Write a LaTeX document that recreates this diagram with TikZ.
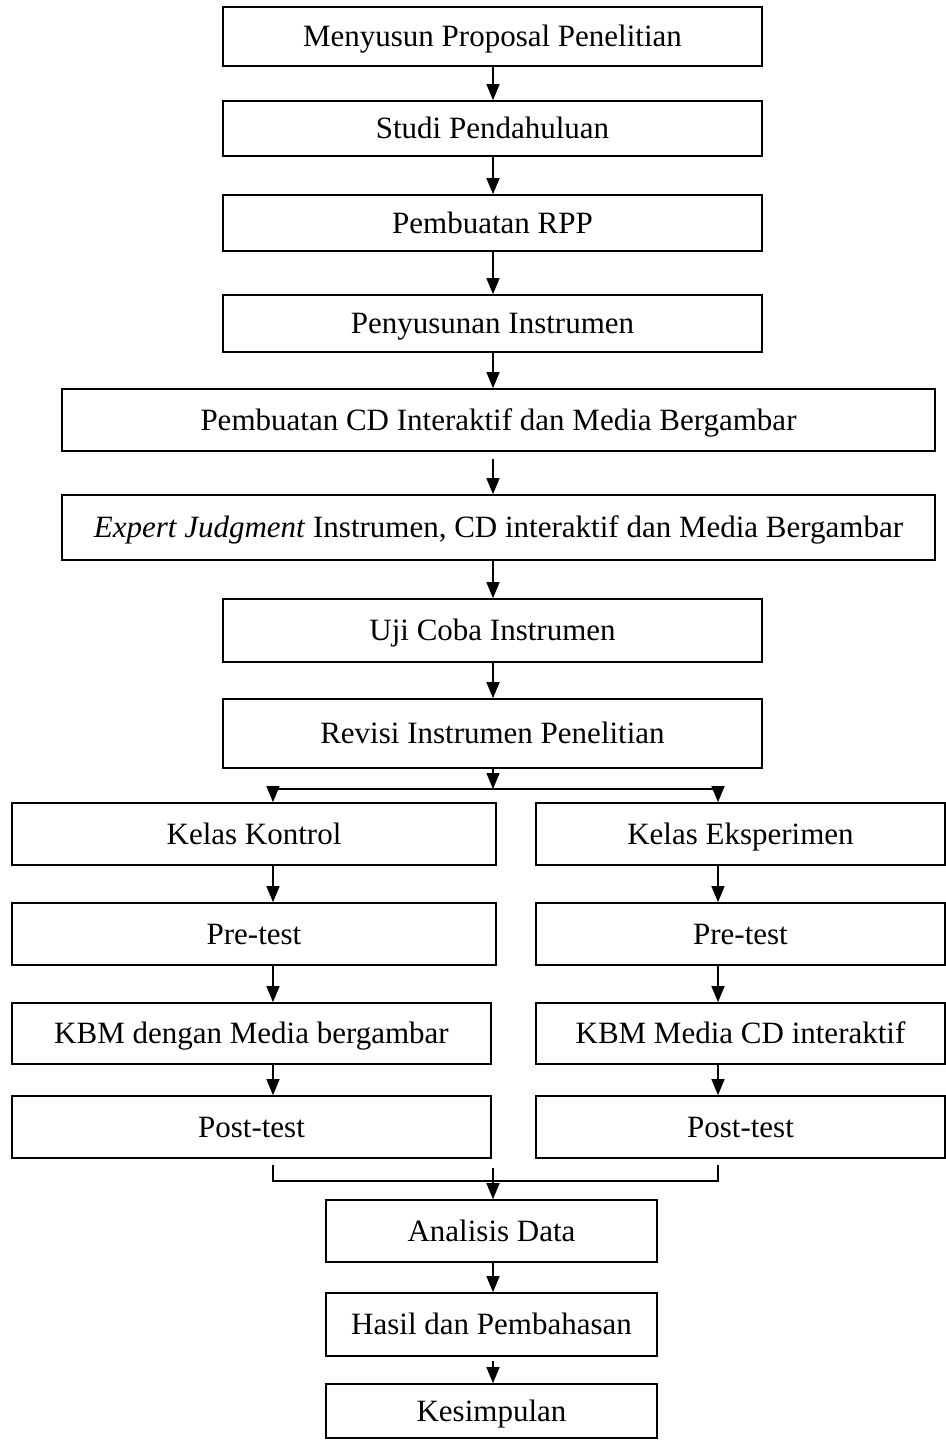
\documentclass[tikz,border=0pt]{standalone}
\usepackage{fontspec}
\setmainfont{Liberation Serif}
\usetikzlibrary{arrows.meta}
\begin{document}
\begin{tikzpicture}[x=0.5pt,y=-0.5pt,
  box/.style={draw, line width=0.85pt, inner sep=0pt, text height=10.3pt, text depth=0pt, font=\fontsize{15.5pt}{18pt}\selectfont},
  arr/.style={line width=0.7pt, -{Triangle[length=8pt,width=6.5pt]}},
  ln/.style={line width=0.7pt}]
\useasboundingbox (0,0) rectangle (946,1440);
\coordinate (cx) at (493,0);
\coordinate (lx) at (273,0);
\coordinate (rx) at (718,0);
% main column
\node[box, minimum width=269.5pt, minimum height=29.5pt] (b1) at (492.5,36.5) {Menyusun Proposal Penelitian};
\node[box, minimum width=269.5pt, minimum height=27.5pt] (b2) at (492.5,128.5) {Studi Pendahuluan};
\node[box, minimum width=269.5pt, minimum height=28pt] (b3) at (492.5,223) {Pembuatan RPP};
\node[box, minimum width=269.5pt, minimum height=28.5pt] (b4) at (492.5,323.5) {Penyusunan Instrumen};
\node[box, minimum width=436.5pt, minimum height=31pt] (b5) at (498.5,420) {Pembuatan CD Interaktif dan Media Bergambar};
\node[box, minimum width=436.5pt, minimum height=32.5pt] (b6) at (498.5,527.5) {\textit{Expert Judgment} Instrumen, CD interaktif dan Media Bergambar};
\node[box, minimum width=269.5pt, minimum height=31.5pt] (b7) at (492.5,630.5) {Uji Coba Instrumen};
\node[box, minimum width=269.5pt, minimum height=34.5pt] (b8) at (492.5,733.5) {Revisi Instrumen Penelitian};
% left column
\node[box, minimum width=242pt, minimum height=31pt] (k1) at (254,834) {Kelas Kontrol};
\node[box, minimum width=242pt, minimum height=31pt] (p1) at (254,934) {Pre-test};
\node[box, minimum width=239.5pt, minimum height=30.5pt] (m1) at (251.5,1033.5) {KBM dengan Media bergambar};
\node[box, minimum width=239.5pt, minimum height=31pt] (q1) at (251.5,1127) {Post-test};
% right column
\node[box, minimum width=204.5pt, minimum height=31pt] (k2) at (740.5,834) {Kelas Eksperimen};
\node[box, minimum width=204.5pt, minimum height=31pt] (p2) at (740.5,934) {Pre-test};
\node[box, minimum width=204.5pt, minimum height=30.5pt] (m2) at (740.5,1033.5) {KBM Media CD interaktif};
\node[box, minimum width=204.5pt, minimum height=31pt] (q2) at (740.5,1127) {Post-test};
% bottom
\node[box, minimum width=165.5pt, minimum height=31pt] (a1) at (491.5,1231) {Analisis Data};
\node[box, minimum width=165.5pt, minimum height=31.5pt] (h1) at (491.5,1324.5) {Hasil dan Pembahasan};
\node[box, minimum width=165.5pt, minimum height=27pt] (s1) at (491.5,1411) {Kesimpulan};
% main arrows
\draw[arr] (cx |- b1.south) -- (cx |- b2.north);
\draw[arr] (cx |- b2.south) -- (cx |- b3.north);
\draw[arr] (cx |- b3.south) -- (cx |- b4.north);
\draw[arr] (cx |- b4.south) -- (cx |- b5.north);
\coordinate (b5o) at ([yshift=-3.5pt]cx |- b5.south);
\draw[arr] (b5o) -- (cx |- b6.north);
\draw[arr] (cx |- b6.south) -- (cx |- b7.north);
\draw[arr] (cx |- b7.south) -- (cx |- b8.north);
% split
\coordinate (sc) at (493,789);
\coordinate (sl) at (273,789);
\coordinate (sr) at (718,789);
\draw[arr] (cx |- b8.south) -- (sc);
\draw[ln] (sl) -- (sr);
\draw[arr] (sl) -- (lx |- k1.north);
\draw[arr] (sr) -- (rx |- k2.north);
% columns
\draw[arr] (lx |- k1.south) -- (lx |- p1.north);
\draw[arr] (lx |- p1.south) -- (lx |- m1.north);
\draw[arr] (lx |- m1.south) -- (lx |- q1.north);
\draw[arr] (rx |- k2.south) -- (rx |- p2.north);
\draw[arr] (rx |- p2.south) -- (rx |- m2.north);
\draw[arr] (rx |- m2.south) -- (rx |- q2.north);
% merge
\coordinate (ml0) at (273,1165);
\coordinate (ml) at (273,1181);
\coordinate (mr) at (718,1181);
\coordinate (mr0) at (718,1165);
\coordinate (mc) at (493,1168);
\draw[ln] (ml0) -- (ml) -- (mr) -- (mr0);
\draw[arr] (mc) -- (cx |- a1.north);
\draw[arr] (cx |- a1.south) -- (cx |- h1.north);
\coordinate (h1o) at ([yshift=-2pt]cx |- h1.south);
\draw[arr] (h1o) -- (cx |- s1.north);
\end{tikzpicture}
\end{document}
